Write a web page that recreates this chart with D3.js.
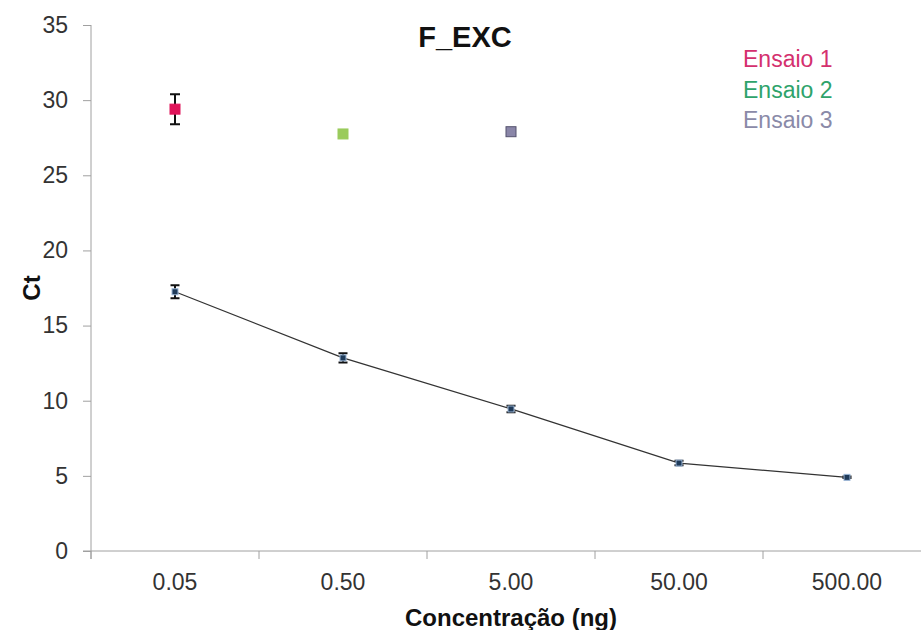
<!DOCTYPE html>
<html>
<head>
<meta charset="utf-8">
<script src="https://cdn.jsdelivr.net/npm/d3@7/dist/d3.min.js"></script>
<style>
body{margin:0;background:#fff}
text{font-family:"Liberation Sans",Arial,sans-serif}
</style>
</head>
<body>
<svg id="chart" width="921" height="630"></svg>
<script>
// concentrations (x categories)
var categories = ["0.05","0.50","5.00","50.00","500.00"]
// standard curve: mean Ct and error
var meanCt = [17.25, 12.85, 9.45, 5.85, 4.9]
var meanErr = [0.43, 0.3, 0.22, 0.15, 0.05]
// single runs
var runNames = ["Ensaio 1","Ensaio 2","Ensaio 3"]
var runCategory = ["0.05","0.50","5.00"]
var runCt = [29.4, 27.75, 27.9]
var runErr = [1.0, 0, 0.2]
var yTicks = [0,5,10,15,20,25,30,35]

var runFill = ["#e0145a","#9acb5c","#8a86a8"]
var runStroke = ["#e0145a","#9acb5c","#55536e"]
var runText = ["#d4306e","#2ea36b","#8a8aa8"]

var svg = d3.select("#chart")
var plotLeft = 91, plotTop = 25, plotBottom = 551
var x = d3.scaleBand().domain(categories).range([plotLeft, plotLeft+168*5]).paddingInner(0)
var y = d3.scaleLinear().domain([0,35]).range([plotBottom, plotTop])
var axisColor = "#a0a0a0"

// y axis
var yAxis = svg.append("g").attr("transform","translate("+plotLeft+",0)")
    .call(d3.axisLeft(y).tickValues(yTicks).tickSize(8).tickPadding(15))
yAxis.select(".domain").attr("stroke",axisColor).attr("d","M0,"+plotTop+"V"+(plotBottom+8))
yAxis.selectAll(".tick line").attr("stroke",axisColor)
yAxis.selectAll(".tick text").attr("fill","#333").style("font-size","23px")
    .style("font-family","Liberation Sans, Arial, sans-serif")

// x axis
svg.append("line").attr("x1",plotLeft-8).attr("x2",921).attr("y1",plotBottom).attr("y2",plotBottom)
    .attr("stroke",axisColor)
svg.selectAll(".xtick").data(d3.range(categories.length+1)).enter()
    .append("line").attr("class","xtick")
    .attr("x1",function(d){return plotLeft+d*x.bandwidth()})
    .attr("x2",function(d){return plotLeft+d*x.bandwidth()})
    .attr("y1",plotBottom).attr("y2",plotBottom+8)
    .attr("stroke",axisColor)
svg.selectAll(".xlabel").data(categories).enter()
    .append("text").attr("class","xlabel")
    .attr("x",function(d){return x(d)+x.bandwidth()/2})
    .attr("y",590)
    .attr("text-anchor","middle")
    .attr("fill","#333")
    .style("font-size","23px")
    .text(function(d){return d})

// titles
svg.append("text").attr("x",465).attr("y",47).attr("text-anchor","middle")
    .style("font-size","29px").style("font-weight","bold").attr("fill","#111").text("F_EXC")
svg.append("text").attr("x",511).attr("y",626).attr("text-anchor","middle")
    .style("font-size","24px").style("font-weight","bold").attr("fill","#111").text("Concentração (ng)")
svg.append("text").attr("transform","translate(40,"+((plotTop+plotBottom)/2)+") rotate(-90)")
    .attr("text-anchor","middle")
    .style("font-size","24px").style("font-weight","bold").attr("fill","#111").text("Ct")

function cx(c){return x(c)+x.bandwidth()/2}

// standard curve line
var line = d3.line().x(function(d,i){return cx(categories[i])}).y(function(d){return y(d)})
svg.append("path").datum(meanCt).attr("d",line)
    .attr("fill","none").attr("stroke","#333").attr("stroke-width",1.3)

// error bars
function errorBars(cls,cats,vals,errs,capW){
    var rows = vals.map(function(v,i){return {cat:cats[i],v:v,e:errs[i]}})
        .filter(function(r){return r.e>0})
    svg.selectAll("."+cls).data(rows).enter().append("path").attr("class",cls)
        .attr("d",function(r){
            var px = cx(r.cat), t = y(r.v+r.e), b = y(r.v-r.e)
            return "M"+px+","+t+"V"+b+"M"+(px-capW/2)+","+t+"H"+(px+capW/2)+"M"+(px-capW/2)+","+b+"H"+(px+capW/2)
        })
        .attr("stroke","#111").attr("stroke-width",2).attr("fill","none")
}
errorBars("meanErr",categories,meanCt,meanErr,9)

svg.selectAll(".meanPt").data(meanCt).enter().append("rect").attr("class","meanPt")
    .attr("x",function(d,i){return cx(categories[i])-3})
    .attr("y",function(d){return y(d)-3})
    .attr("width",6).attr("height",6)
    .attr("fill","#1f3b5a").attr("stroke","#9db8d8").attr("stroke-width",1)

errorBars("runErr",runCategory,runCt,runErr,10)
svg.selectAll(".runPt").data(runCt).enter().append("rect").attr("class","runPt")
    .attr("x",function(d,i){return cx(runCategory[i])-5})
    .attr("y",function(d){return y(d)-5})
    .attr("width",10).attr("height",10)
    .attr("fill",function(d,i){return runFill[i]})
    .attr("stroke",function(d,i){return runStroke[i]}).attr("stroke-width",1)

// legend
svg.selectAll(".legend").data(runNames).enter().append("text").attr("class","legend")
    .attr("x",743).attr("y",function(d,i){return 67+i*30.5})
    .attr("fill",function(d,i){return runText[i]})
    .style("font-size","23px")
    .text(function(d){return d})
</script>
</body>
</html>
